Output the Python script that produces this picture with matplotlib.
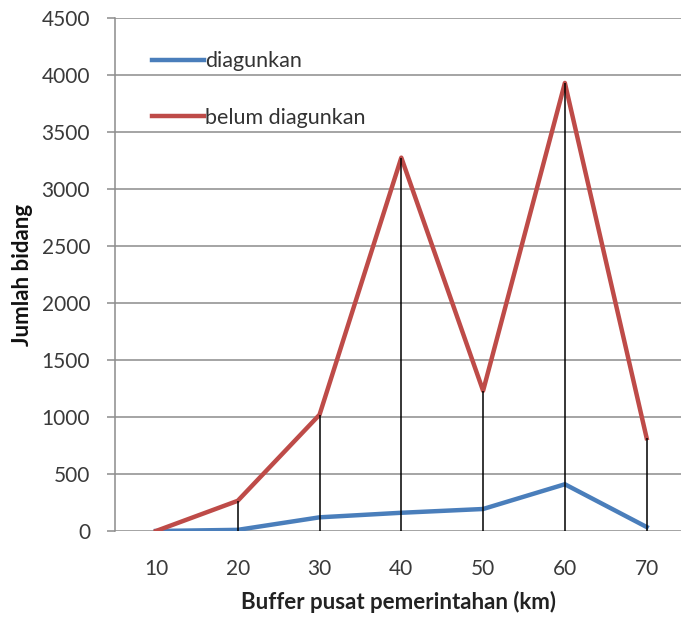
import matplotlib
matplotlib.use("Agg")
import matplotlib.pyplot as plt
import numpy as np

# data
buffer_km = ["10", "20", "30", "40", "50", "60", "70"]
diagunkan = [0, 10, 120, 160, 193, 410, 35]
belum_diagunkan = [0, 265, 1020, 3275, 1230, 3930, 815]
y_ticks = [0, 500, 1000, 1500, 2000, 2500, 3000, 3500, 4000, 4500]

plt.rcParams['font.family'] = ['Lato', 'DejaVu Sans']

fig = plt.figure(figsize=(6.81, 6.22), dpi=100)
ax = fig.add_axes([0.169, 0.1463, 0.831, 0.8248])

x = np.arange(len(buffer_km))

ax.plot(x, diagunkan, color='#4A7EBB', lw=3.2, label='diagunkan', zorder=3)
ax.plot(x, belum_diagunkan, color='#BE4B48', lw=3.2, label='belum diagunkan', zorder=3)

# drop lines from the red series down to zero
ax.vlines(x, 0, belum_diagunkan, color='black', lw=1.1, zorder=4)

ax.set_xlim(-0.5, 6.42)
ax.set_ylim(0, 4500)
ax.set_yticks(y_ticks)
ax.set_yticklabels([str(v) for v in y_ticks], fontsize=15, color='#3a3a3a')
ax.set_xticks(x)
ax.set_xticklabels(buffer_km, fontsize=15, color='#3a3a3a')

ax.yaxis.grid(True, color='#8c8c8c', lw=1.1)
ax.set_axisbelow(True)

for s in ['top', 'right', 'bottom']:
    ax.spines[s].set_visible(False)
ax.spines['left'].set_color('#8c8c8c')
ax.spines['left'].set_linewidth(1.1)
ax.tick_params(axis='y', length=6, width=1.1, color='#8c8c8c', pad=12)
ax.tick_params(axis='x', length=0, pad=20)

ax.set_xlabel('Buffer pusat pemerintahan (km)', fontsize=16, fontweight='bold',
              color='#222222', labelpad=9)
ax.set_ylabel('Jumlah bidang', fontsize=16, fontweight='bold', color='#111111')
ax.yaxis.set_label_coords(-0.145, 0.5)

ax.legend(loc='upper left', bbox_to_anchor=(0.065, 0.935), frameon=False,
          borderaxespad=0, borderpad=0, handlelength=2.4, handletextpad=0.08,
          labelspacing=1.7, fontsize=15.5, labelcolor='#333333')

fig.savefig('out.png', dpi=100)
